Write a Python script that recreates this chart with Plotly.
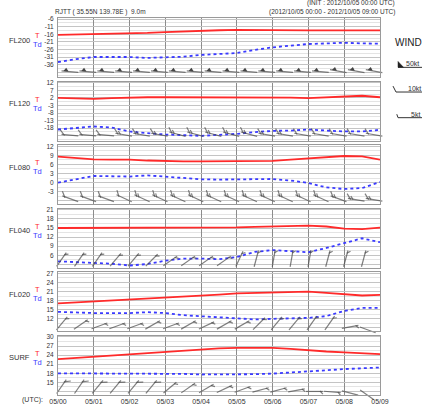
import math
import plotly.graph_objects as go

# ---------------- data ----------------
HOURS = [0, 0.5, 1, 1.5, 2, 2.5, 3, 3.5, 4, 4.5, 5, 5.5, 6, 6.5, 7, 7.5, 8, 8.5, 9]
TICK_HOURS = [0, 1, 2, 3, 4, 5, 6, 7, 8, 9]
TICK_LABELS = ["05/00", "05/01", "05/02", "05/03", "05/04", "05/05", "05/06", "05/07", "05/08", "05/09"]

LEVELS = ["FL200", "FL120", "FL080", "FL040", "FL020", "SURF"]

YTICKS_FL200 = [-6, -11, -16, -21, -26, -31, -36]
YTICKS_FL120 = [12, 7, 2, -3, -8, -13, -18]
YTICKS_FL080 = [12, 9, 6, 3, 0, -3]
YTICKS_FL040 = [21, 18, 15, 12, 9, 6]
YTICKS_FL020 = [27, 24, 21, 18, 15, 12]
YTICKS_SURF = [30, 27, 24, 21, 18, 15]

T_FL200 = [-16.4, -16.2, -16.0, -15.8, -15.6, -15.1, -14.5, -14.0, -13.6, -13.3, -13.0, -13.2, -13.4, -13.4, -13.4, -13.4, -13.4, -13.4, -13.4]
TD_FL200 = [-34.3, -32.4, -31.0, -31.0, -31.0, -31.6, -31.2, -30.8, -29.6, -29.0, -28.4, -26.3, -24.6, -23.5, -22.4, -22.0, -21.6, -22.0, -22.2]
T_FL120 = [2.0, 1.6, 1.4, 1.8, 2.2, 2.4, 2.4, 2.4, 2.4, 2.4, 2.4, 2.4, 2.4, 2.2, 1.8, 2.3, 2.9, 3.4, 2.4]
TD_FL120 = [-18.9, -18.0, -16.9, -17.6, -20.2, -21.3, -22.2, -22.6, -23.1, -22.4, -21.8, -20.6, -19.8, -19.6, -18.9, -19.6, -20.2, -20.2, -19.1]
T_FL080 = [8.6, 8.1, 7.7, 7.6, 7.6, 7.3, 7.1, 7.0, 7.0, 7.0, 7.0, 7.1, 7.2, 7.6, 8.0, 8.4, 8.8, 8.7, 7.6]
TD_FL080 = [0.0, 1.1, 2.2, 2.1, 2.0, 2.4, 2.0, 1.6, 1.1, 1.0, 1.1, 1.3, 1.2, 0.7, -0.1, -1.6, -2.1, -1.8, 0.2]
T_FL040 = [15.0, 15.0, 15.0, 15.1, 15.2, 15.1, 15.0, 15.0, 15.0, 15.1, 15.2, 15.4, 15.6, 15.7, 15.8, 15.5, 14.8, 14.6, 15.1]
TD_FL040 = [4.0, 3.7, 3.4, 3.2, 2.6, 3.1, 4.2, 4.9, 4.9, 4.7, 5.4, 7.1, 7.7, 7.3, 7.0, 8.4, 10.1, 11.6, 10.3]
T_FL020 = [17.1, 17.4, 17.7, 18.0, 18.3, 18.6, 19.0, 19.3, 19.6, 20.0, 20.4, 20.6, 20.8, 20.9, 21.0, 20.6, 20.1, 19.7, 19.9]
TD_FL020 = [14.3, 14.0, 13.9, 13.9, 13.9, 14.2, 13.9, 13.2, 12.9, 12.6, 12.1, 11.8, 12.0, 12.1, 12.3, 12.9, 14.6, 15.6, 15.6]
T_SURF = [22.7, 23.1, 23.5, 23.9, 24.3, 24.8, 25.2, 25.6, 26.0, 26.2, 26.4, 26.4, 26.4, 26.1, 25.6, 25.2, 24.9, 24.6, 24.3]
TD_SURF = [18.0, 18.0, 18.0, 18.0, 18.0, 18.0, 18.0, 17.8, 17.6, 17.6, 17.6, 17.7, 17.9, 18.2, 18.5, 19.0, 19.4, 19.7, 19.9]

# wind direction (deg, from) and speed (kt)
WDIR_FL200 = [275, 275, 275, 275, 275, 275, 275, 275, 275, 275, 275, 275, 275, 275, 275, 275, 280, 280, 280]
WSPD_FL200 = [50, 50, 50, 50, 50, 50, 50, 50, 50, 50, 50, 50, 50, 50, 50, 50, 50, 50, 50]
WDIR_FL120 = [275, 275, 275, 275, 280, 280, 280, 285, 285, 285, 285, 285, 280, 280, 280, 280, 280, 280, 280]
WSPD_FL120 = [10, 10, 10, 10, 15, 15, 15, 15, 15, 15, 15, 15, 15, 15, 10, 10, 10, 10, 10]
WDIR_FL080 = [290, 290, 290, 290, 295, 295, 295, 295, 295, 295, 295, 295, 295, 295, 295, 295, 290, 280, 280]
WSPD_FL080 = [10, 10, 10, 10, 10, 15, 15, 15, 15, 15, 15, 15, 15, 15, 15, 15, 15, 15, 15]
WDIR_FL040 = [35, 35, 35, 40, 40, 45, 55, 55, 55, 55, 25, 15, 10, 10, 10, 15, 15, 15, 20]
WSPD_FL040 = [5, 5, 5, 5, 5, 5, 5, 5, 5, 5, 5, 5, 5, 5, 5, 5, 5, 5, 5]
WDIR_FL020 = [40, 55, 70, 70, 70, 60, 70, 60, 65, 60, 60, 45, 40, 40, 35, 35, 80, 110, 115]
WSPD_FL020 = [5, 5, 5, 5, 5, 5, 5, 5, 5, 5, 5, 5, 5, 5, 5, 5, 5, 5, 5]
WDIR_SURF = [35, 35, 40, 40, 40, 40, 50, 55, 60, 65, 70, 75, 75, 80, 90, 95, 105, 125, 125]
WSPD_SURF = [10, 10, 10, 10, 10, 10, 5, 5, 5, 5, 5, 5, 5, 5, 5, 5, 5, 5, 5]

PANELS = [
    dict(name="FL200", ticks=YTICKS_FL200, t=T_FL200, td=TD_FL200, wd=WDIR_FL200, ws=WSPD_FL200),
    dict(name="FL120", ticks=YTICKS_FL120, t=T_FL120, td=TD_FL120, wd=WDIR_FL120, ws=WSPD_FL120),
    dict(name="FL080", ticks=YTICKS_FL080, t=T_FL080, td=TD_FL080, wd=WDIR_FL080, ws=WSPD_FL080),
    dict(name="FL040", ticks=YTICKS_FL040, t=T_FL040, td=TD_FL040, wd=WDIR_FL040, ws=WSPD_FL040),
    dict(name="FL020", ticks=YTICKS_FL020, t=T_FL020, td=TD_FL020, wd=WDIR_FL020, ws=WSPD_FL020),
    dict(name="SURF", ticks=YTICKS_SURF, t=T_SURF, td=TD_SURF, wd=WDIR_SURF, ws=WSPD_SURF),
]

# ---------------- layout geometry (pixels) ----------------
W, H = 425, 417
ML, MR, MT, MB = 58, 45, 18, 17
PW = W - ML - MR          # 322
PH = H - MT - MB          # 382
PANEL_H = 60.0
PANEL_STEP = 64.4
TICK_SPAN = 46.0
PXH = PW / 9.0            # pixels per hour

FONT = "Liberation Sans, Arial, sans-serif"
TXT = "#333333"
RED = "#ff2a2a"
BLUE = "#3a3aff"
BARB = "#4a4a4a"


def PX(x):
    return (x - ML) / PW


def PY(y):
    return (MT + PH - y) / PH


def barb_traces(hours, base, ppu, dirs, spds, xa, ya):
    L = 12.0
    sx, sy, ss, sa = [], [], [], []
    tx, ty, ta = [], [], []

    def add_seg(h, ox, oy, length, az):
        sx.append(h + ox / PXH)
        sy.append(base + oy / ppu)
        ss.append(length)
        sa.append(az % 360)

    for h, d, s in zip(hours, dirs, spds):
        r = math.radians(d)
        ux, uy = math.sin(r), math.cos(r)
        rp = math.radians(d + 90)
        px, py = math.sin(rp), math.cos(rp)
        rf = math.radians(d + 48)
        fx, fy = math.sin(rf), math.cos(rf)
        add_seg(h, ux * L / 2, uy * L / 2, L, d)
        pos = L
        n50 = s // 50
        rem = s - 50 * n50
        n10 = rem // 10
        n5 = (rem % 10) >= 5
        for _ in range(n50):
            cx = (pos - 2.0) * ux + 1.2 * px
            cy = (pos - 2.0) * uy + 1.2 * py
            tx.append(h + cx / PXH)
            ty.append(base + cy / ppu)
            ta.append((d + 90) % 360)
            pos -= 5
        for _ in range(n10):
            fl = 5.0
            add_seg(h, pos * ux + fx * fl / 2, pos * uy + fy * fl / 2, fl, d + 48)
            pos -= 2.5
        if n5:
            fl = 3.0
            add_seg(h, pos * ux + fx * fl / 2, pos * uy + fy * fl / 2, fl, d + 48)

    out = [go.Scatter(
        x=sx, y=sy, mode="markers", xaxis=xa, yaxis=ya, cliponaxis=False,
        marker=dict(symbol="line-ns", size=ss, angle=sa, color=BARB,
                    line=dict(color=BARB, width=1.2)),
        hoverinfo="skip", showlegend=False)]
    if tx:
        out.append(go.Scatter(
            x=tx, y=ty, mode="markers", xaxis=xa, yaxis=ya, cliponaxis=False,
            marker=dict(symbol="triangle-up", size=4.5, angle=ta, color="#444444",
                        line=dict(width=0)),
            hoverinfo="skip", showlegend=False))
    return out


fig = go.Figure()
layout = dict(
    width=W, height=H,
    margin=dict(l=ML, r=MR, t=MT, b=MB, pad=0),
    paper_bgcolor="white", plot_bgcolor="white",
    showlegend=False,
    font=dict(family=FONT, size=7, color=TXT),
)
annotations = []
shapes = []

for i, p in enumerate(PANELS):
    n = i + 1
    xa = "x" if n == 1 else f"x{n}"
    ya = "y" if n == 1 else f"y{n}"
    top_px = MT + i * PANEL_STEP
    bot_px = top_px + PANEL_H
    ticks = p["ticks"]
    step = ticks[0] - ticks[1]
    ppu = TICK_SPAN / (ticks[0] - ticks[-1])
    r_top = ticks[0] + 1.2 / ppu
    r_bot = r_top - PANEL_H / ppu
    base = ticks[-1] - step

    layout[f"xaxis{'' if n == 1 else n}"] = dict(
        domain=[0, 1], anchor=ya, range=[0, 9],
        tickmode="array", tickvals=TICK_HOURS, ticktext=TICK_LABELS,
        showticklabels=(n == 6), ticks="",
        tickfont=dict(size=7, color=TXT, family=FONT),
        showgrid=True, gridcolor="#8c8c8c", gridwidth=1,
        showline=True, mirror=True, linecolor="#9a9a9a", linewidth=1,
        zeroline=False, fixedrange=True,
    )
    layout[f"yaxis{'' if n == 1 else n}"] = dict(
        domain=[PY(bot_px), PY(top_px)], anchor=xa, range=[r_bot, r_top],
        tickmode="array", tickvals=ticks + [base],
        ticktext=[str(v) for v in ticks] + [""],
        ticks="", ticklabelstandoff=2,
        tickfont=dict(size=6.5, color=TXT, family=FONT),
        showgrid=True, gridcolor="#c4c4c4", gridwidth=1,
        minor=dict(tickmode="linear", tick0=base, dtick=step / 2,
                   showgrid=True, gridcolor="#e4e4e4", gridwidth=1, ticks=""),
        showline=True, mirror=True, linecolor="#9a9a9a", linewidth=1,
        zeroline=False, fixedrange=True,
    )

    fig.add_trace(go.Scatter(x=HOURS, y=p["t"], mode="lines", xaxis=xa, yaxis=ya,
                             line=dict(color=RED, width=1.8), hoverinfo="skip"))
    fig.add_trace(go.Scatter(x=HOURS, y=p["td"], mode="lines", xaxis=xa, yaxis=ya,
                             line=dict(color=BLUE, width=1.8, dash="dot"), hoverinfo="skip"))
    for tr in barb_traces(HOURS, base, ppu, p["wd"], p["ws"], xa, ya):
        fig.add_trace(tr)

    annotations.append(dict(text=p["name"], x=PX(19), y=PY(top_px + 22.5), xref="paper", yref="paper",
                            xanchor="center", yanchor="middle", showarrow=False,
                            font=dict(size=7.5, color=TXT, family=FONT)))
    annotations.append(dict(text="T", x=PX(37), y=PY(top_px + 18), xref="paper", yref="paper",
                            xanchor="center", yanchor="middle", showarrow=False,
                            font=dict(size=7.5, color=RED, family=FONT)))
    annotations.append(dict(text="Td", x=PX(37.5), y=PY(top_px + 27), xref="paper", yref="paper",
                            xanchor="center", yanchor="middle", showarrow=False,
                            font=dict(size=7.5, color=BLUE, family=FONT)))

# header texts
annotations.append(dict(text="RJTT ( 35.55N 139.78E )  9.0m", x=PX(53), y=PY(12), xref="paper", yref="paper",
                        xanchor="left", yanchor="middle", showarrow=False, font=dict(size=6.5, color=TXT)))
annotations.append(dict(text="(INIT : 2012/10/05 00:00 UTC)", x=PX(397), y=PY(2.5), xref="paper", yref="paper",
                        xanchor="right", yanchor="middle", showarrow=False, font=dict(size=6.5, color=TXT)))
annotations.append(dict(text="(2012/10/05 00:00 - 2012/10/05 09:00 UTC)", x=PX(397), y=PY(12), xref="paper",
                        yref="paper", xanchor="right", yanchor="middle", showarrow=False,
                        font=dict(size=6.5, color=TXT)))
annotations.append(dict(text="(UTC):", x=PX(32), y=PY(405.5), xref="paper", yref="paper",
                        xanchor="center", yanchor="middle", showarrow=False, font=dict(size=7, color=TXT)))

# wind legend
annotations.append(dict(text="WIND", x=PX(393), y=PY(43), xref="paper", yref="paper",
                        xanchor="left", yanchor="middle", showarrow=False, font=dict(size=10, color="#222222")))
annotations.append(dict(text="50kt", x=PX(404), y=PY(64.5), xref="paper", yref="paper",
                        xanchor="left", yanchor="middle", showarrow=False, font=dict(size=7, color=TXT)))
annotations.append(dict(text="10kt", x=PX(406), y=PY(89.5), xref="paper", yref="paper",
                        xanchor="left", yanchor="middle", showarrow=False, font=dict(size=7, color=TXT)))
annotations.append(dict(text="5kt", x=PX(409), y=PY(115.5), xref="paper", yref="paper",
                        xanchor="left", yanchor="middle", showarrow=False, font=dict(size=7, color=TXT)))


def seg(x0, y0, x1, y1):
    return dict(type="line", xref="paper", yref="paper", x0=PX(x0), y0=PY(y0), x1=PX(x1), y1=PY(y1),
                line=dict(color="#333333", width=1))


shapes.append(seg(398, 68, 422, 68))
shapes.append(dict(type="path", xref="paper", yref="paper",
                   path=f"M{PX(398)},{PY(68)} L{PX(398)},{PY(62)} L{PX(403.5)},{PY(68)} Z",
                   fillcolor="#222222", line=dict(color="#222222", width=0.5)))
shapes.append(seg(396, 93, 422, 93))
shapes.append(seg(396, 93, 393, 87))
shapes.append(seg(398, 119, 422, 119))
shapes.append(seg(398, 119, 396.8, 115.5))

layout["annotations"] = annotations
layout["shapes"] = shapes
fig.update_layout(**layout)

fig.write_html("out.html", config={"displayModeBar": False, "staticPlot": True},
               post_script="document.body.style.margin='0px';document.body.style.overflow='hidden';")
